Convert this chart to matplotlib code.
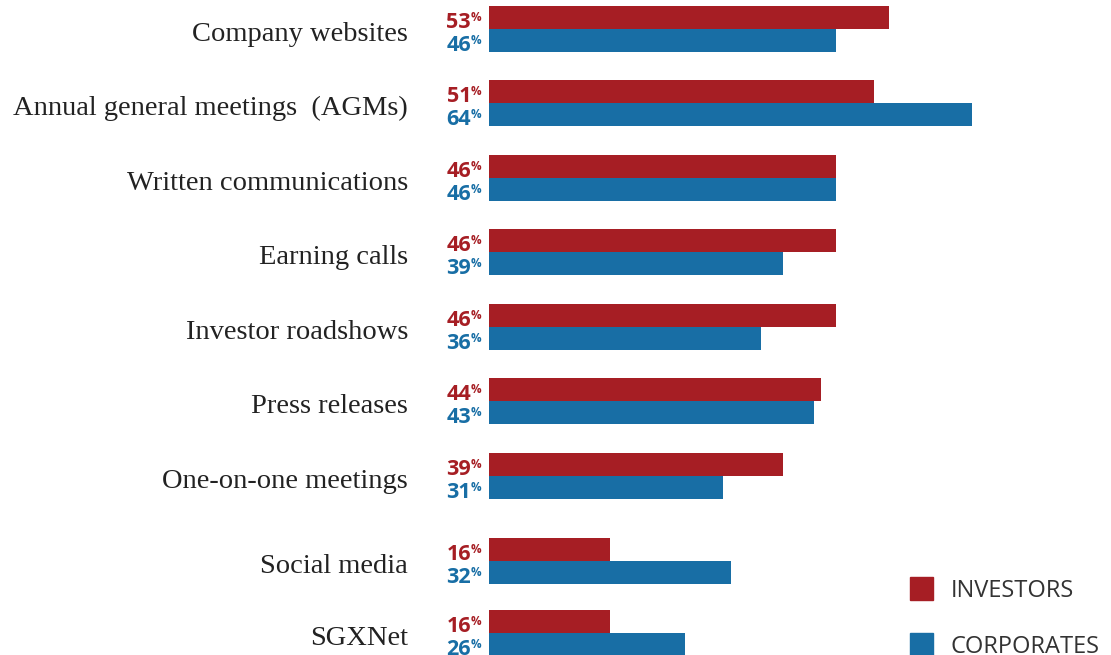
import matplotlib
matplotlib.use("Agg")
import matplotlib.pyplot as plt
from matplotlib.patches import Rectangle

categories = ["Company websites", "Annual general meetings  (AGMs)", "Written communications",
              "Earning calls", "Investor roadshows", "Press releases", "One-on-one meetings",
              "Social media", "SGXNet"]
investors = [53, 51, 46, 46, 46, 44, 39, 16, 16]
corporates = [46, 64, 46, 39, 36, 43, 31, 32, 26]
series_names = ["INVESTORS", "CORPORATES"]

RED = "#A61E24"
BLUE = "#186EA5"
W, H = 1111, 655
# group centre positions (pixel rows, top-down) -- layout only
group_pos = [29, 103, 178, 252, 327, 401, 476, 561, 633]
bar_h = 23
px_per_pct = 7.547
x0 = 489

fig = plt.figure(figsize=(W / 100, H / 100), dpi=100)
ax = fig.add_axes([x0 / W, 0, (W - x0) / W, 1])
ax.set_ylim(H, 0)
ax.set_xlim(0, (W - x0) / px_per_pct)
ax.axis("off")

ax.barh([p - bar_h / 2 for p in group_pos], investors, height=bar_h, color=RED, left=0)
ax.barh([p + bar_h / 2 for p in group_pos], corporates, height=bar_h, color=BLUE, left=0)

num_font = dict(family="Open Sans", weight="bold", style="normal")
for p, iv, cv in zip(group_pos, investors, corporates):
    for val, yc, col in ((iv, p - bar_h / 2, RED), (cv, p + bar_h / 2, BLUE)):
        ax.annotate(str(val), xy=(0, yc + 10.5), xytext=(-18, 0), textcoords="offset pixels",
                    ha="right", va="baseline", fontsize=15.5, color=col, annotation_clip=False, **num_font)
        ax.annotate("%", xy=(0, yc + 3.5), xytext=(-8, 0), textcoords="offset pixels",
                    ha="right", va="baseline", fontsize=8.5, color=col, annotation_clip=False, **num_font)

for p, cat in zip(group_pos, categories):
    ax.annotate(cat, xy=(0, p + 12), xytext=(-81, 0), textcoords="offset pixels",
                ha="right", va="baseline", fontsize=20.5, family="Liberation Serif", color="#222222",
                annotation_clip=False)

# legend
def fx(x):
    return x / W
def fy(y):
    return 1 - y / H

for (top, col, name) in ((577, RED, series_names[0]), (633, BLUE, series_names[1])):
    fig.add_artist(Rectangle((fx(910), fy(top + 23)), 23 / W, 23 / H, transform=fig.transFigure,
                             color=col, clip_on=False))
    fig.text(fx(951), fy(top + 20), name, ha="left", va="baseline", fontsize=17,
             family="Open Sans", color="#333333")

fig.savefig("out.png", dpi=100)
